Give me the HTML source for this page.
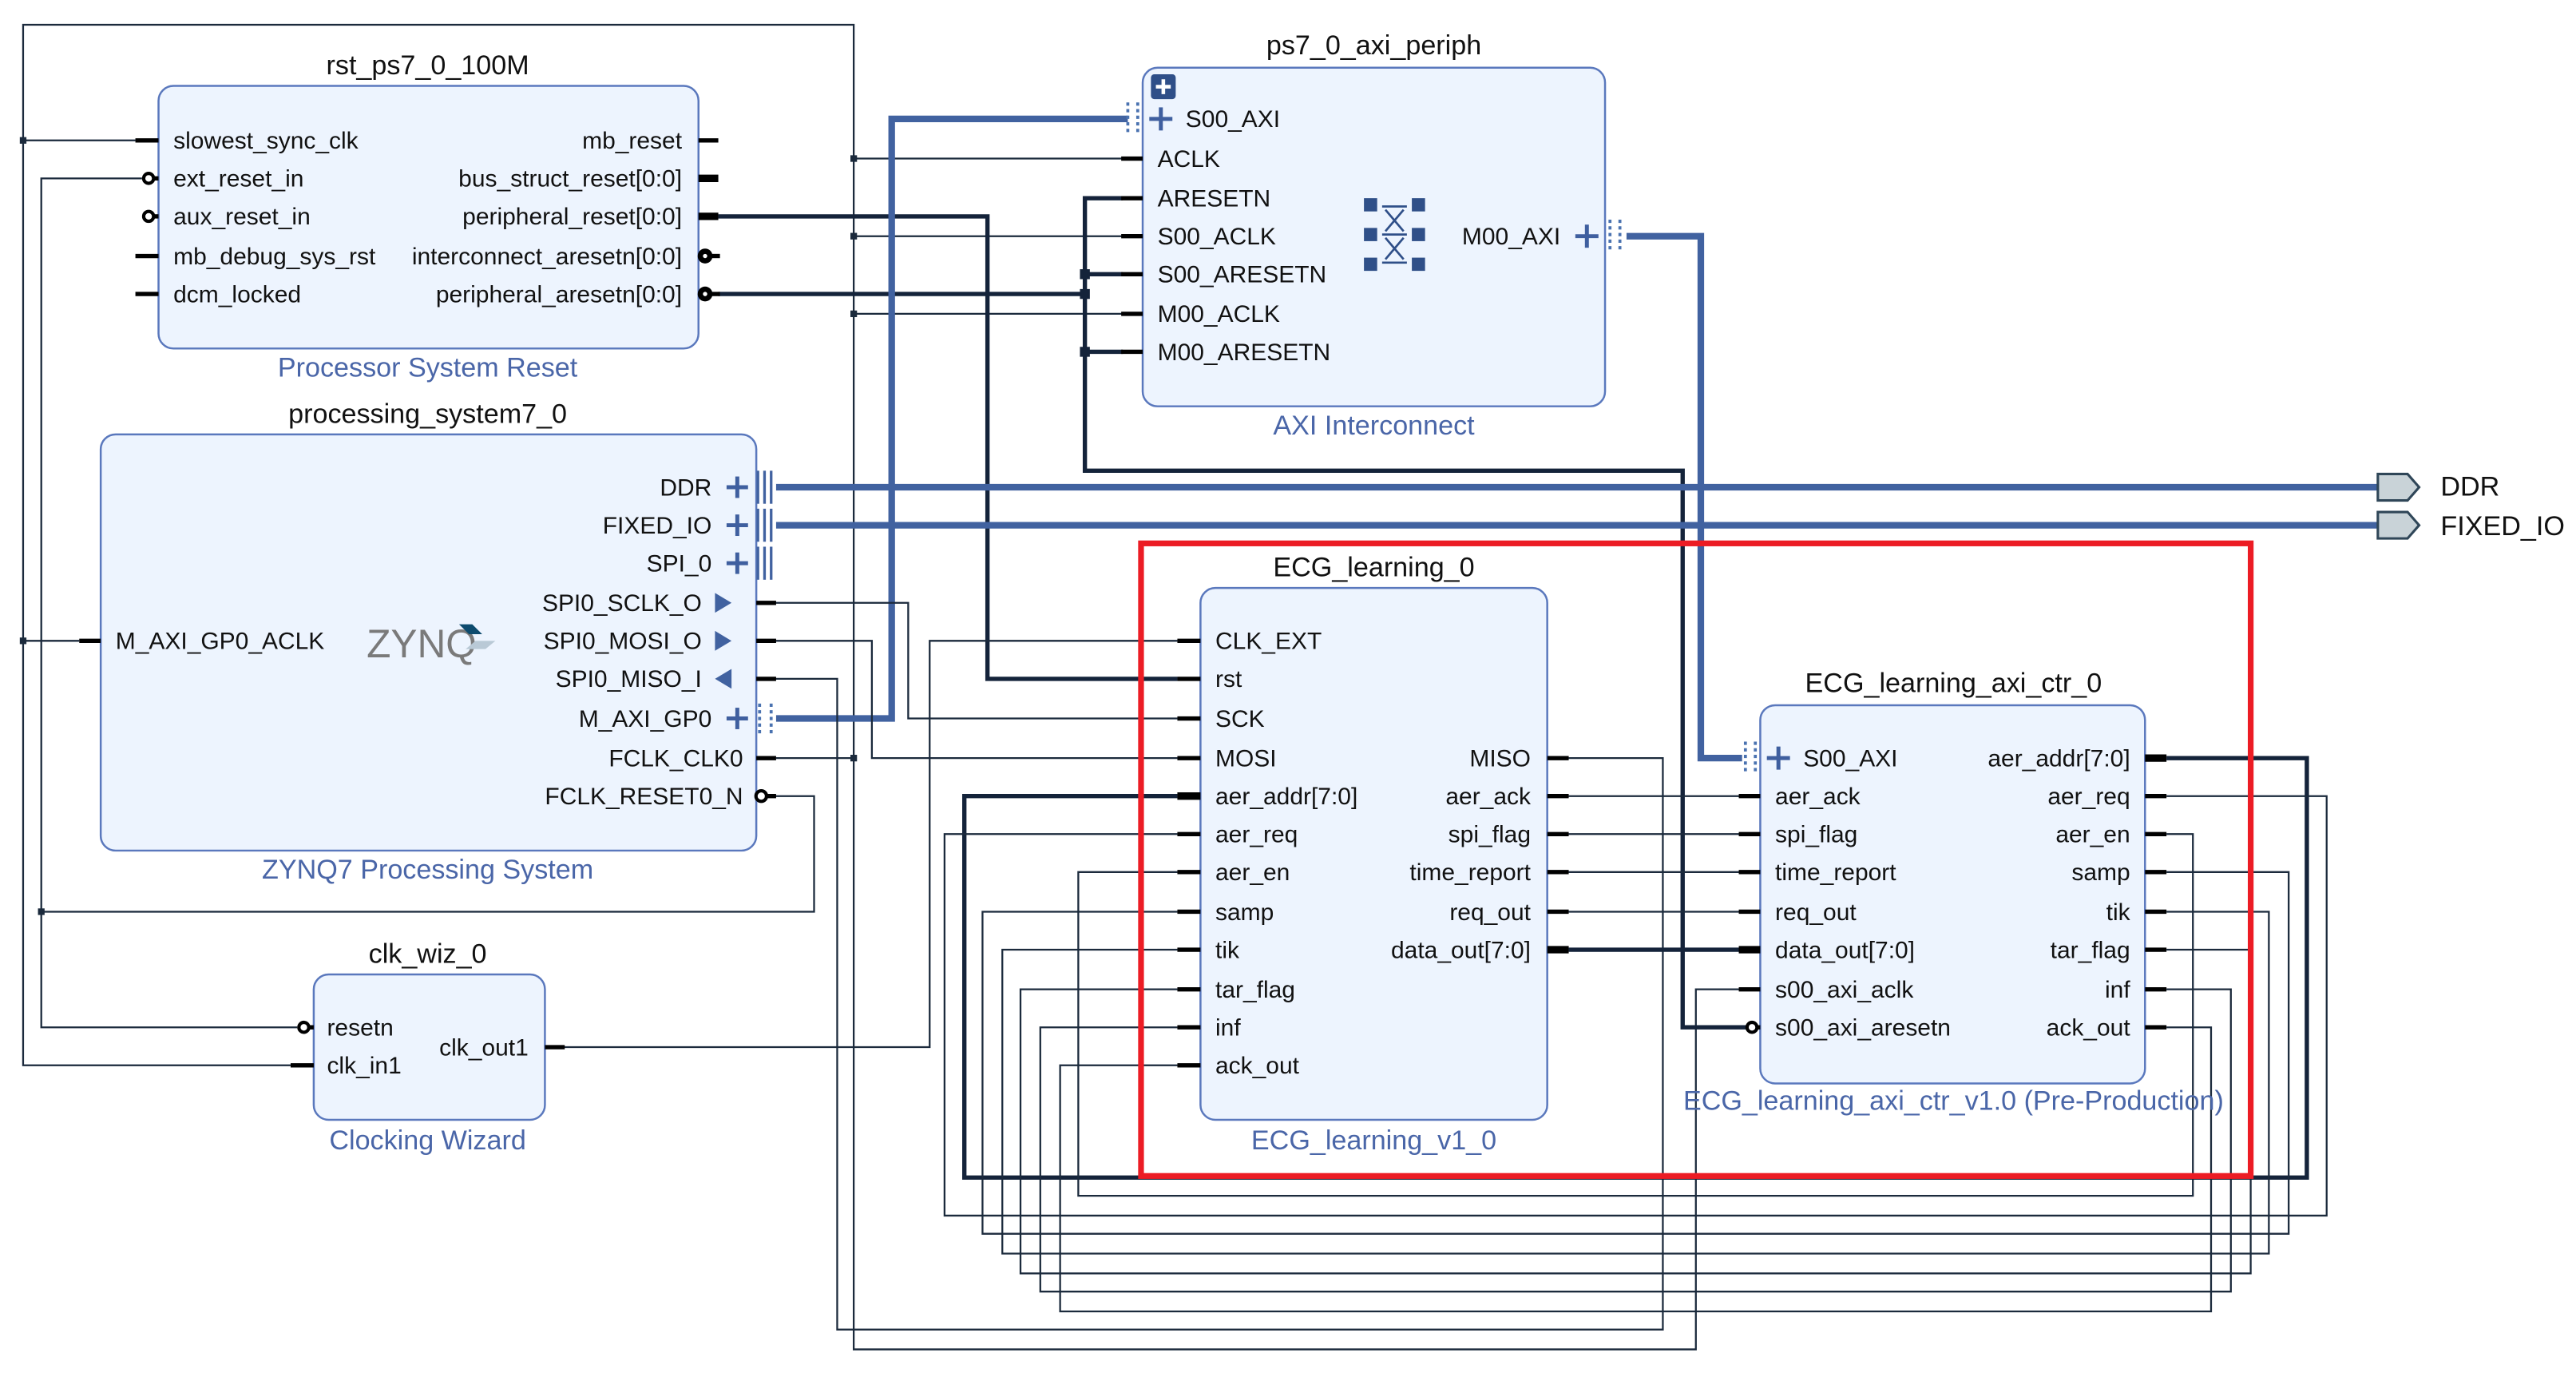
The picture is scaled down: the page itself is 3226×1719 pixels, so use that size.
<!DOCTYPE html>
<html><head><meta charset="utf-8"><style>
html,body{margin:0;padding:0;background:#fff;}
svg{display:block;}
text{font-family:"Liberation Sans",Arial,sans-serif;}
.l{font-size:14.5px;fill:#111;}
.r{font-size:14.5px;fill:#111;text-anchor:end;}
.t{font-size:16.5px;fill:#111;text-anchor:middle;}
.s{font-size:16.5px;fill:#4a66a8;text-anchor:middle;}
.box{fill:#edf4fe;stroke:#5a78bd;stroke-width:1.2;}
.w{stroke:#1b2a3c;stroke-width:1.1;fill:none;}
.tw{stroke:#14233a;stroke-width:2.6;fill:none;}
.bus{stroke:#4162a0;stroke-width:4;fill:none;}
.st{stroke:#000;stroke-width:2.6;}
.stt{stroke:#000;stroke-width:4.5;}
.pl{stroke:#3f5f9f;stroke-width:2.4;}
</style></head><body>
<svg width="3226" height="1719" viewBox="0 0 1560 831.3" preserveAspectRatio="none" xmlns="http://www.w3.org/2000/svg">
<rect x="0" y="0" width="1560" height="832" fill="#fff"/>

<!-- ========== WIRES ========== -->
<!-- FCLK_CLK0 net -->
<polyline class="w" points="82,85 14,85 14,15 517,15 517,817 1027,817 1027,599 1060,599"/>
<polyline class="w" points="14,85 14,645 176,645"/>
<line class="w" x1="14" y1="388" x2="48" y2="388"/>
<line class="w" x1="470" y1="459" x2="517" y2="459"/>
<line class="w" x1="517" y1="96" x2="680" y2="96"/>
<line class="w" x1="517" y1="143" x2="680" y2="143"/>
<line class="w" x1="517" y1="190" x2="680" y2="190"/>
<g fill="#1b2a3c">
<rect x="12" y="83" width="4" height="4"/><rect x="12" y="386" width="4" height="4"/>
<rect x="515" y="94" width="4" height="4"/><rect x="515" y="141" width="4" height="4"/>
<rect x="515" y="188" width="4" height="4"/><rect x="515" y="457" width="4" height="4"/>
<rect x="23" y="550" width="4" height="4"/>
</g>
<!-- reset net -->
<polyline class="w" points="86,108 25,108 25,622 180,622"/>
<polyline class="w" points="25,552 493,552 493,482 466,482"/>
<!-- peripheral_reset -->
<polyline class="tw" points="435,131 598,131 598,411 713,411"/>
<!-- peripheral_aresetn -->
<polyline class="tw" points="435,178 657,178"/>
<polyline class="tw" points="680,120 657,120 657,285 1019,285 1019,622 1058,622"/>
<line class="tw" x1="657" y1="166" x2="680" y2="166"/>
<line class="tw" x1="657" y1="213" x2="680" y2="213"/>
<g fill="#14233a"><rect x="654" y="163" width="6" height="6"/><rect x="654" y="175" width="6" height="6"/><rect x="654" y="210" width="6" height="6"/></g>
<!-- buses -->
<polyline class="bus" points="470,435 540,435 540,72 683,72"/>
<polyline class="bus" points="985,143 1030,143 1030,459 1055,459"/>
<line class="bus" x1="470" y1="295" x2="1440" y2="295"/>
<line class="bus" x1="470" y1="318" x2="1440" y2="318"/>
<!-- SPI -->
<polyline class="w" points="458,365 550,365 550,435 713,435"/>
<polyline class="w" points="458,388 528,388 528,459 713,459"/>
<polyline class="w" points="458,411 507,411 507,805 1007,805 1007,459 950,459"/>
<!-- clk_out1 -->
<polyline class="w" points="340,634 563,634 563,388 713,388"/>
<!-- direct ECG -> axi -->
<line class="w" x1="950" y1="482" x2="1058" y2="482"/>
<line class="w" x1="950" y1="505" x2="1058" y2="505"/>
<line class="w" x1="950" y1="528" x2="1058" y2="528"/>
<line class="w" x1="950" y1="552" x2="1058" y2="552"/>
<line class="tw" x1="950" y1="575" x2="1058" y2="575"/>
<!-- loops back -->
<polyline class="tw" points="1312,459 1397,459 1397,713 584,713 584,482 713,482"/>
<polyline class="w" points="1312,505 1328,505 1328,724 653,724 653,528 713,528"/>
<polyline class="w" points="1312,482 1409,482 1409,736 572,736 572,505 713,505"/>
<polyline class="w" points="1312,528 1386,528 1386,747 595,747 595,552 713,552"/>
<polyline class="w" points="1312,552 1374,552 1374,759 607,759 607,575 713,575"/>
<polyline class="w" points="1312,575 1363,575 1363,771 618,771 618,599 713,599"/>
<polyline class="w" points="1312,599 1351,599 1351,782 630,782 630,622 713,622"/>
<polyline class="w" points="1312,622 1339,622 1339,794 642,794 642,645 713,645"/>

<!-- ========== rst_ps7_0_100M ========== -->
<text class="t" x="259" y="45">rst_ps7_0_100M</text>
<rect class="box" x="96" y="52" width="327" height="159" rx="9"/>
<text class="s" x="259" y="228">Processor System Reset</text>
<g class="st"><line x1="82" y1="85" x2="96" y2="85"/><line x1="82" y1="155" x2="96" y2="155"/><line x1="82" y1="178" x2="96" y2="178"/>
<line x1="92" y1="108" x2="96" y2="108"/><line x1="92" y1="131" x2="96" y2="131"/>
<line x1="423" y1="85" x2="435" y2="85"/><line x1="430" y1="155" x2="436" y2="155"/><line x1="430" y1="178" x2="436" y2="178"/></g>
<g class="stt"><line x1="423" y1="108" x2="435" y2="108"/><line x1="423" y1="131" x2="435" y2="131"/></g>
<circle cx="90" cy="108" r="3" fill="#fff" stroke="#000" stroke-width="2"/>
<circle cx="90" cy="131" r="3" fill="#fff" stroke="#000" stroke-width="2"/>
<circle cx="427" cy="155" r="4.5" fill="#000"/><circle cx="427" cy="155" r="1.3" fill="#fff"/>
<circle cx="427" cy="178" r="4.5" fill="#000"/><circle cx="427" cy="178" r="1.3" fill="#fff"/>
<text class="l" x="105" y="90">slowest_sync_clk</text>
<text class="l" x="105" y="113">ext_reset_in</text>
<text class="l" x="105" y="136">aux_reset_in</text>
<text class="l" x="105" y="160">mb_debug_sys_rst</text>
<text class="l" x="105" y="183">dcm_locked</text>
<text class="r" x="413" y="90">mb_reset</text>
<text class="r" x="413" y="113">bus_struct_reset[0:0]</text>
<text class="r" x="413" y="136">peripheral_reset[0:0]</text>
<text class="r" x="413" y="160">interconnect_aresetn[0:0]</text>
<text class="r" x="413" y="183">peripheral_aresetn[0:0]</text>

<!-- ========== processing_system7_0 ========== -->
<text class="t" x="259" y="256">processing_system7_0</text>
<rect class="box" x="61" y="263" width="397" height="252" rx="9"/>
<text class="s" x="259" y="532">ZYNQ7 Processing System</text>
<line class="st" x1="48" y1="388" x2="61" y2="388"/>
<text class="l" x="70" y="393">M_AXI_GP0_ACLK</text>
<text x="222" y="398" style="font-size:24px;fill:#7a7a7a;">ZYNQ</text>
<polygon points="278,378 286,378 292,384 284,384" fill="#0d4b6e"/>
<polygon points="288,388 300,388 294,393 282,393" fill="#b9c9d6"/>
<text class="r" x="431" y="300">DDR</text>
<text class="r" x="431" y="323">FIXED_IO</text>
<text class="r" x="431" y="346">SPI_0</text>
<text class="r" x="425" y="370">SPI0_SCLK_O</text>
<text class="r" x="425" y="393">SPI0_MOSI_O</text>
<text class="r" x="425" y="416">SPI0_MISO_I</text>
<text class="r" x="431" y="440">M_AXI_GP0</text>
<text class="r" x="450" y="464">FCLK_CLK0</text>
<text class="r" x="450" y="487">FCLK_RESET0_N</text>
<g class="pl"><line x1="440" y1="295" x2="453" y2="295"/><line x1="446.5" y1="288.5" x2="446.5" y2="301.5"/>
<line x1="440" y1="318" x2="453" y2="318"/><line x1="446.5" y1="311.5" x2="446.5" y2="324.5"/>
<line x1="440" y1="341" x2="453" y2="341"/><line x1="446.5" y1="334.5" x2="446.5" y2="347.5"/>
<line x1="440" y1="435" x2="453" y2="435"/><line x1="446.5" y1="428.5" x2="446.5" y2="441.5"/></g>
<g stroke="#4162a0" stroke-width="1.6">
<line x1="459" y1="285" x2="459" y2="305"/><line x1="463" y1="285" x2="463" y2="305"/><line x1="467" y1="285" x2="467" y2="305"/>
<line x1="459" y1="308" x2="459" y2="328"/><line x1="463" y1="308" x2="463" y2="328"/><line x1="467" y1="308" x2="467" y2="328"/>
<line x1="459" y1="331" x2="459" y2="351"/><line x1="463" y1="331" x2="463" y2="351"/><line x1="467" y1="331" x2="467" y2="351"/></g>
<g stroke="#4a72b0" stroke-width="1.8" stroke-dasharray="2,2"><line x1="460" y1="426" x2="460" y2="445"/><line x1="467" y1="426" x2="467" y2="445"/></g>
<polygon points="433,359 443,365 433,371" fill="#4162a0"/>
<polygon points="433,382 443,388 433,394" fill="#4162a0"/>
<polygon points="443,405 433,411 443,417" fill="#4162a0"/>
<g class="st"><line x1="458" y1="365" x2="470" y2="365"/><line x1="458" y1="388" x2="470" y2="388"/><line x1="458" y1="411" x2="470" y2="411"/><line x1="458" y1="459" x2="470" y2="459"/><line x1="464" y1="482" x2="470" y2="482"/></g>
<circle cx="461" cy="482" r="3.2" fill="#fff" stroke="#000" stroke-width="2"/>

<!-- ========== clk_wiz_0 ========== -->
<text class="t" x="259" y="583">clk_wiz_0</text>
<rect class="box" x="190" y="590" width="140" height="88" rx="9"/>
<text class="s" x="259" y="696">Clocking Wizard</text>
<g class="st"><line x1="176" y1="645" x2="190" y2="645"/><line x1="186" y1="622" x2="190" y2="622"/><line x1="330" y1="634" x2="342" y2="634"/></g>
<circle cx="184" cy="622" r="3" fill="#fff" stroke="#000" stroke-width="2"/>
<text class="l" x="198" y="627">resetn</text>
<text class="l" x="198" y="650">clk_in1</text>
<text class="r" x="320" y="639">clk_out1</text>

<!-- ========== ps7_0_axi_periph ========== -->
<text class="t" x="832" y="33">ps7_0_axi_periph</text>
<rect class="box" x="692" y="41" width="280" height="205" rx="9"/>
<text class="s" x="832" y="263">AXI Interconnect</text>
<rect x="697" y="45" width="15" height="15" rx="2" fill="#2f4f88"/>
<g stroke="#fff" stroke-width="2.2"><line x1="700" y1="52.5" x2="709" y2="52.5"/><line x1="704.5" y1="48" x2="704.5" y2="57"/></g>
<g stroke="#4a72b0" stroke-width="1.8" stroke-dasharray="2,2"><line x1="683" y1="62" x2="683" y2="82"/><line x1="689" y1="62" x2="689" y2="82"/></g>
<g class="pl"><line x1="696" y1="72" x2="710" y2="72"/><line x1="703" y1="65" x2="703" y2="79"/>
<line x1="954" y1="143" x2="968" y2="143"/><line x1="961" y1="136" x2="961" y2="150"/></g>
<g stroke="#4a72b0" stroke-width="1.8" stroke-dasharray="2,2"><line x1="975" y1="133" x2="975" y2="153"/><line x1="981" y1="133" x2="981" y2="153"/></g>
<text class="l" x="718" y="77">S00_AXI</text>
<text class="l" x="701" y="101">ACLK</text>
<text class="l" x="701" y="125">ARESETN</text>
<text class="l" x="701" y="148">S00_ACLK</text>
<text class="l" x="701" y="171">S00_ARESETN</text>
<text class="l" x="701" y="195">M00_ACLK</text>
<text class="l" x="701" y="218">M00_ARESETN</text>
<text class="r" x="945" y="148">M00_AXI</text>
<g class="st"><line x1="679" y1="96" x2="692" y2="96"/><line x1="679" y1="120" x2="692" y2="120"/><line x1="679" y1="143" x2="692" y2="143"/><line x1="679" y1="166" x2="692" y2="166"/><line x1="679" y1="190" x2="692" y2="190"/><line x1="679" y1="213" x2="692" y2="213"/></g>
<g fill="#2f4f88"><rect x="826" y="120" width="8" height="8"/><rect x="855" y="120" width="8" height="8"/><rect x="826" y="138" width="8" height="8"/><rect x="855" y="138" width="8" height="8"/><rect x="826" y="156" width="8" height="8"/><rect x="855" y="156" width="8" height="8"/></g>
<g stroke="#2f4f88" stroke-width="1.3"><line x1="837" y1="125" x2="852" y2="125"/><line x1="837" y1="142" x2="852" y2="142"/><line x1="837" y1="159" x2="852" y2="159"/>
<line x1="839" y1="127" x2="850" y2="140"/><line x1="850" y1="127" x2="839" y2="140"/><line x1="839" y1="144" x2="850" y2="157"/><line x1="850" y1="144" x2="839" y2="157"/></g>

<!-- ========== External ports ========== -->
<polygon points="1440,287 1458,287 1465,295 1458,303 1440,303" fill="#c9d3d8" stroke="#2f4658" stroke-width="1.5"/>
<polygon points="1440,310 1458,310 1465,318 1458,326 1440,326" fill="#c9d3d8" stroke="#2f4658" stroke-width="1.5"/>
<text x="1478" y="300" style="font-size:16.5px;fill:#111;">DDR</text>
<text x="1478" y="324" style="font-size:16.5px;fill:#111;">FIXED_IO</text>

<!-- ========== ECG_learning_0 ========== -->
<text class="t" x="832" y="349">ECG_learning_0</text>
<rect class="box" x="727" y="356" width="210" height="322" rx="9"/>
<text class="s" x="832" y="696">ECG_learning_v1_0</text>
<g class="st"><line x1="713" y1="388" x2="727" y2="388"/><line x1="713" y1="411" x2="727" y2="411"/><line x1="713" y1="435" x2="727" y2="435"/><line x1="713" y1="459" x2="727" y2="459"/>
<line x1="713" y1="505" x2="727" y2="505"/><line x1="713" y1="528" x2="727" y2="528"/><line x1="713" y1="552" x2="727" y2="552"/><line x1="713" y1="575" x2="727" y2="575"/><line x1="713" y1="599" x2="727" y2="599"/><line x1="713" y1="622" x2="727" y2="622"/><line x1="713" y1="645" x2="727" y2="645"/>
<line x1="937" y1="459" x2="950" y2="459"/><line x1="937" y1="482" x2="950" y2="482"/><line x1="937" y1="505" x2="950" y2="505"/><line x1="937" y1="528" x2="950" y2="528"/><line x1="937" y1="552" x2="950" y2="552"/></g>
<g class="stt"><line x1="713" y1="482" x2="727" y2="482"/><line x1="937" y1="575" x2="950" y2="575"/></g>
<text class="l" x="736" y="393">CLK_EXT</text>
<text class="l" x="736" y="416">rst</text>
<text class="l" x="736" y="440">SCK</text>
<text class="l" x="736" y="464">MOSI</text>
<text class="l" x="736" y="487">aer_addr[7:0]</text>
<text class="l" x="736" y="510">aer_req</text>
<text class="l" x="736" y="533">aer_en</text>
<text class="l" x="736" y="557">samp</text>
<text class="l" x="736" y="580">tik</text>
<text class="l" x="736" y="604">tar_flag</text>
<text class="l" x="736" y="627">inf</text>
<text class="l" x="736" y="650">ack_out</text>
<text class="r" x="927" y="464">MISO</text>
<text class="r" x="927" y="487">aer_ack</text>
<text class="r" x="927" y="510">spi_flag</text>
<text class="r" x="927" y="533">time_report</text>
<text class="r" x="927" y="557">req_out</text>
<text class="r" x="927" y="580">data_out[7:0]</text>

<!-- ========== ECG_learning_axi_ctr_0 ========== -->
<text class="t" x="1183" y="419">ECG_learning_axi_ctr_0</text>
<rect class="box" x="1066" y="427" width="233" height="229" rx="9"/>
<text class="s" x="1183" y="672">ECG_learning_axi_ctr_v1.0 (Pre-Production)</text>
<g stroke="#4a72b0" stroke-width="1.8" stroke-dasharray="2,2"><line x1="1057" y1="449" x2="1057" y2="469"/><line x1="1063" y1="449" x2="1063" y2="469"/></g>
<g class="pl"><line x1="1070" y1="459" x2="1084" y2="459"/><line x1="1077" y1="452" x2="1077" y2="466"/></g>
<g class="st"><line x1="1053" y1="482" x2="1066" y2="482"/><line x1="1053" y1="505" x2="1066" y2="505"/><line x1="1053" y1="528" x2="1066" y2="528"/><line x1="1053" y1="552" x2="1066" y2="552"/><line x1="1053" y1="599" x2="1066" y2="599"/><line x1="1063" y1="622" x2="1066" y2="622"/>
<line x1="1299" y1="482" x2="1312" y2="482"/><line x1="1299" y1="505" x2="1312" y2="505"/><line x1="1299" y1="528" x2="1312" y2="528"/><line x1="1299" y1="552" x2="1312" y2="552"/><line x1="1299" y1="575" x2="1312" y2="575"/><line x1="1299" y1="599" x2="1312" y2="599"/><line x1="1299" y1="622" x2="1312" y2="622"/></g>
<g class="stt"><line x1="1053" y1="575" x2="1066" y2="575"/><line x1="1299" y1="459" x2="1312" y2="459"/></g>
<circle cx="1061" cy="622" r="3" fill="#fff" stroke="#000" stroke-width="2"/>
<text class="l" x="1092" y="464">S00_AXI</text>
<text class="l" x="1075" y="487">aer_ack</text>
<text class="l" x="1075" y="510">spi_flag</text>
<text class="l" x="1075" y="533">time_report</text>
<text class="l" x="1075" y="557">req_out</text>
<text class="l" x="1075" y="580">data_out[7:0]</text>
<text class="l" x="1075" y="604">s00_axi_aclk</text>
<text class="l" x="1075" y="627">s00_axi_aresetn</text>
<text class="r" x="1290" y="464">aer_addr[7:0]</text>
<text class="r" x="1290" y="487">aer_req</text>
<text class="r" x="1290" y="510">aer_en</text>
<text class="r" x="1290" y="533">samp</text>
<text class="r" x="1290" y="557">tik</text>
<text class="r" x="1290" y="580">tar_flag</text>
<text class="r" x="1290" y="604">inf</text>
<text class="r" x="1290" y="627">ack_out</text>

<!-- red highlight -->
<rect x="691" y="329" width="672" height="383" fill="none" stroke="#ec1c24" stroke-width="3.5"/>
</svg>
</body></html>
